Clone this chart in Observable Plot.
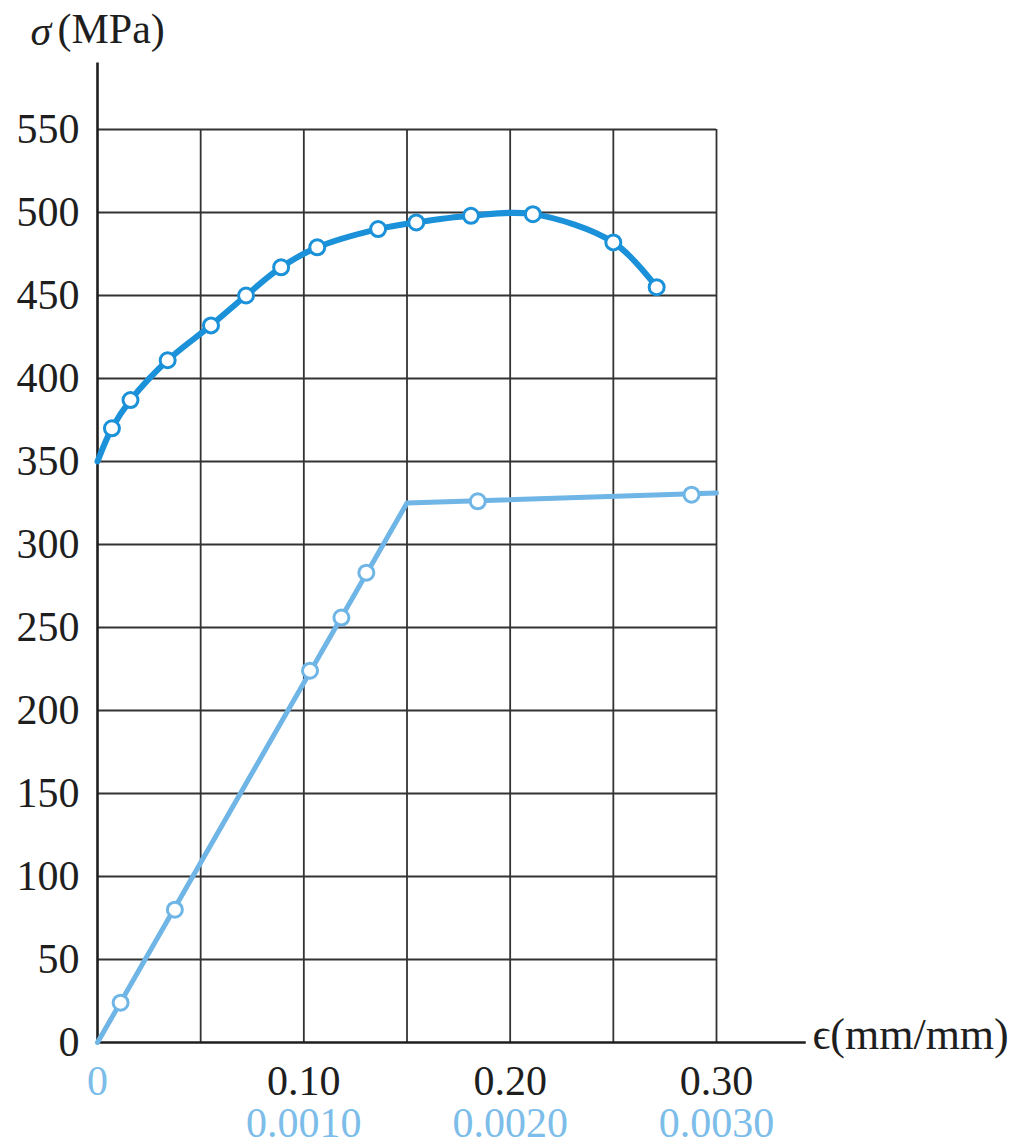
<!DOCTYPE html>
<html><head><meta charset="utf-8">
<script src="https://cdn.jsdelivr.net/npm/d3@7"></script>
<script src="https://cdn.jsdelivr.net/npm/@observablehq/plot@0.6"></script>
<style>body{margin:0;background:#fff}</style>
</head><body><div id="chart"></div>
<script>
// Upper curve (read against the top strain scale, 0–0.30)
const upperStrain = [0, 0.007, 0.016, 0.034, 0.055, 0.072, 0.089, 0.1065, 0.136, 0.1545, 0.181, 0.211, 0.250, 0.271];
const upperStress = [350, 370, 387, 411, 432, 450, 467, 479, 490, 494, 498, 499, 482, 455];
const upperHasMarker = [false, true, true, true, true, true, true, true, true, true, true, true, true, true];

// Lower curve (read against the bottom strain scale, 0–0.0030)
const lowerLineStrain = [0, 0.0015, 0.0030];
const lowerLineStress = [0, 325, 331];
const lowerPtStrain = [0.000112, 0.000375, 0.00103, 0.001182, 0.001303, 0.001843, 0.002879];
const lowerPtStress = [24, 80, 224, 256, 283, 326, 330];

// Axes / ticks
const yTicks = [0, 50, 100, 150, 200, 250, 300, 350, 400, 450, 500, 550];
const xGrid = [0.05, 0.10, 0.15, 0.20, 0.25, 0.30];
const topTicks = [0.10, 0.20, 0.30];
const topTickLabels = ["0.10", "0.20", "0.30"];
const bottomTicks = [0, 0.0010, 0.0020, 0.0030];
const bottomTickLabels = ["0", "0.0010", "0.0020", "0.0030"];
const scaleRatio = 100; // bottom scale * 100 = top scale position

const upperColor = "#1a91d8";
const lowerColor = "#6fb5e6";
const lowerText = "#7cbde9";
const ink = "#1e1e1e";

const upper = upperStrain.map((x, i) => ({x, y: upperStress[i], m: upperHasMarker[i]}));
const lowerLine = lowerLineStrain.map((x, i) => ({x: x * scaleRatio, y: lowerLineStress[i]}));
const lowerPts = lowerPtStrain.map((x, i) => ({x: x * scaleRatio, y: lowerPtStress[i]}));
const topLab = topTicks.map((x, i) => ({x, t: topTickLabels[i]}));
const botLab = bottomTicks.map((x, i) => ({x: x * scaleRatio, t: bottomTickLabels[i]}));

const font = "'Liberation Serif', 'DejaVu Serif', serif";

const plot = Plot.plot({
  width: 1030, height: 1144,
  marginLeft: 97, marginRight: 314, marginTop: 129, marginBottom: 102,
  x: {domain: [0, 0.30], axis: null},
  y: {domain: [0, 550], axis: null},
  style: {fontFamily: font, fontSize: "42px", background: "white", overflow: "visible"},
  marks: [
    Plot.ruleX(xGrid, {x: d => d, y1: 0, y2: 550, stroke: "#333", strokeWidth: 1.8}),
    Plot.ruleY(yTicks.slice(1), {y: d => d, x1: 0, x2: 0.30, stroke: "#333", strokeWidth: 1.8}),
    Plot.ruleX([0], {y1: 0, y2: 590, stroke: ink, strokeWidth: 2.6}),
    Plot.ruleY([0], {x1: 0, x2: 0.3435, stroke: ink, strokeWidth: 2.6}),
    Plot.text(yTicks, {x: 0, y: d => d, text: d => String(d), textAnchor: "end", dx: -18, fill: ink}),
    Plot.text(topLab, {x: "x", y: 0, text: "t", dy: 39, fill: ink}),
    Plot.text(botLab.slice(0, 1), {x: "x", y: 0, text: "t", dy: 39, fill: lowerText}),
    Plot.text(botLab.slice(1), {x: "x", y: 0, text: "t", dy: 81, fill: lowerText}),
    Plot.text(["σ"], {frameAnchor: "top-left", text: d => d, dx: -67, dy: -114, textAnchor: "start", fontStyle: "italic", fill: ink}),
    Plot.text(["(MPa)"], {frameAnchor: "top-left", text: d => d, dx: -40, dy: -116, textAnchor: "start", fill: ink}),
    Plot.text(["ϵ(mm/mm)"], {frameAnchor: "bottom-right", text: d => d, dx: 96, dy: 6, textAnchor: "start", fill: ink, fontSize: 44}),
    Plot.line(lowerLine, {x: "x", y: "y", stroke: lowerColor, strokeWidth: 5}),
    Plot.dot(lowerPts, {x: "x", y: "y", r: 7.5, fill: "white", stroke: lowerColor, strokeWidth: 3}),
    Plot.line(upper, {x: "x", y: "y", curve: "catmull-rom", stroke: upperColor, strokeWidth: 6}),
    Plot.dot(upper.filter(d => d.m), {x: "x", y: "y", r: 7.5, fill: "white", stroke: upperColor, strokeWidth: 3})
  ]
});
document.getElementById("chart").appendChild(plot);
</script>
</body></html>
